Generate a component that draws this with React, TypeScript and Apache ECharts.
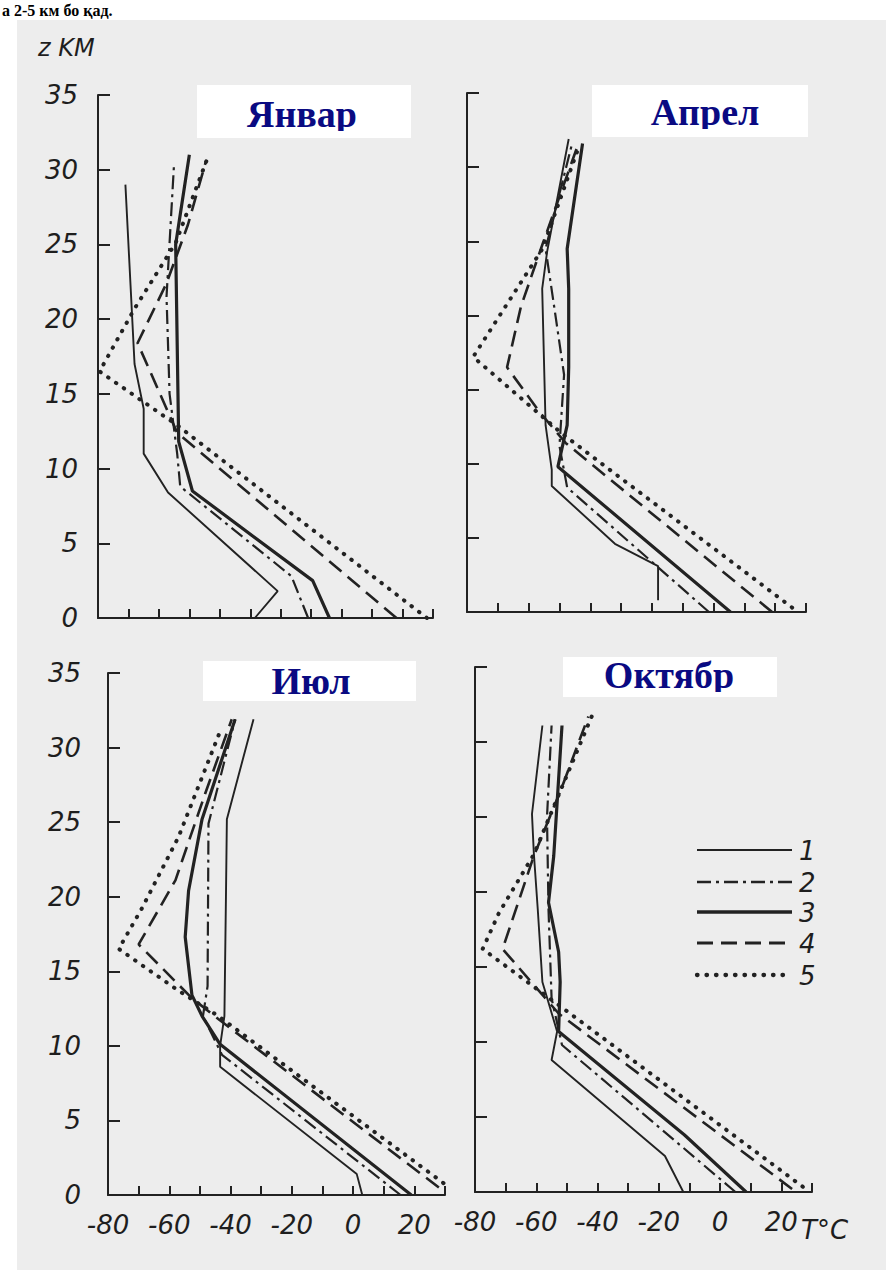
import React, { useEffect, useRef } from "react";
import * as echarts from "echarts";

type P = [number, number];

// ---- Data (temperature °C, height km) ----
const seriesNames = ["1", "2", "3", "4", "5"];
const monthTitles = ["Январ", "Апрел", "Июл", "Октябр"];
const xLabelValues = [-80, -60, -40, -20, 0, 20];

// January
const jan1: P[] = [[-28.5, 0], [-21, 1.8], [-57, 8.4], [-65, 11], [-65, 14], [-68, 17], [-71, 29]];
const jan2: P[] = [[-11, 0], [-16.5, 2.8], [-53, 8.8], [-54, 11], [-56.5, 15], [-57.5, 21.5], [-55, 30.5]];
const jan3: P[] = [[-4, 0], [-9.5, 2.5], [-49, 8.5], [-53.5, 11.8], [-54.5, 25], [-50, 31]];
const jan4: P[] = [[18, 0], [-54, 12.4], [-67, 18.4], [-57.5, 22.4], [-50.5, 26.3], [-44.5, 30.6]];
const jan5: P[] = [[28, 0], [-54, 12.9], [-79.5, 16.5], [-68, 20.7], [-54.5, 25.1], [-44, 30.8]];

// April
const apr1: P[] = [[-18, 0.8], [-18, 3.1], [-32, 4.6], [-52.5, 8.5], [-52.5, 9.6], [-54.5, 12.6], [-55.6, 21.8], [-54, 24.3], [-47, 31.9]];
const apr2: P[] = [[-1.5, 0], [-47.5, 8.4], [-50, 11.2], [-48.5, 16], [-52, 21], [-54.5, 24.5], [-46, 31.5]];
const apr3: P[] = [[5.5, 0], [-50.5, 9.8], [-47.5, 12.6], [-47, 16.5], [-47, 21.8], [-47.5, 24.5], [-42.5, 31.6]];
const apr4: P[] = [[19, 0], [-48, 11.4], [-56.5, 13.5], [-60, 14.5], [-67, 16.5], [-62.5, 20.6], [-55.5, 24.8], [-44, 31.5]];
const apr5: P[] = [[25.5, 0.3], [-49, 12], [-78, 17.2], [-55.5, 24.5], [-43.5, 31.5]];

// July
const jul1: P[] = [[3, 0], [1.2, 1.4], [-43.4, 8.6], [-43.4, 10], [-42, 12], [-41.5, 20], [-41.2, 25.2], [-32.5, 31.9]];
const jul2: P[] = [[15.5, 0], [-42.8, 9.4], [-49, 12], [-47.5, 14], [-47.2, 24.9], [-38.5, 31.9]];
const jul3: P[] = [[19, 0], [-43.4, 10.1], [-49.3, 12], [-52.6, 13.4], [-54.8, 17.3], [-53.7, 20.4], [-49.3, 25.2], [-38.5, 31.9]];
const jul4: P[] = [[28, 0.5], [-44, 11.8], [-52.6, 13.2], [-70, 16.8], [-58, 21.1], [-48.3, 26.9], [-39.6, 31.9]];
const jul5: P[] = [[29.5, 0.8], [-44, 12], [-57, 13.7], [-76.5, 16.5], [-69, 19.2], [-57, 24], [-42.8, 31.4]];

// October
const oct1: P[] = [[-12, 0], [-18, 2.4], [-55, 8.8], [-53.2, 10.7], [-58, 14], [-59.5, 18.8], [-60.8, 22.6], [-61.4, 25.2], [-58, 31.1]];
const oct2: P[] = [[5, 0], [-51.6, 9.8], [-55, 12.9], [-56, 18.8], [-56.5, 25], [-55, 31.1]];
const oct3: P[] = [[8.5, 0], [-11.6, 3.8], [-52.7, 10.7], [-52.2, 14], [-52.7, 16], [-56, 19.3], [-54.3, 22.4], [-51.6, 31.1]];
const oct4: P[] = [[23.5, 0.2], [-52.7, 11.9], [-71, 16.2], [-60.8, 22.4], [-51.6, 27], [-43, 31.7]];
const oct5: P[] = [[27, 0.35], [-51.6, 12.3], [-77.5, 16.2], [-72.2, 18.6], [-60.8, 22.5], [-51.6, 27], [-41.5, 31.9]];

const panels: P[][][] = [
  [jan1, jan2, jan3, jan4, jan5],
  [apr1, apr2, apr3, apr4, apr5],
  [jul1, jul2, jul3, jul4, jul5],
  [oct1, oct2, oct3, oct4, oct5],
];

// ---- Layout / style ----
const INK = "#222222";
const BG = "#ededed";
const NAVY = "#0a0a82";
const LABEL_FONT = "'DejaVu Sans', sans-serif";
const TITLE_FONT = "'Liberation Serif', 'DejaVu Serif', serif";

const gridBoxes = [
  { left: 98, top: 95, width: 335, height: 523 },
  { left: 467, top: 93, width: 339, height: 519 },
  { left: 108, top: 673, width: 337, height: 522 },
  { left: 475, top: 667, width: 337, height: 525 },
];

const lineStyles: any[] = [
  { width: 1.9, type: "solid" },
  { width: 2.2, type: [14, 5, 3, 5] },
  { width: 3.2, type: "solid" },
  { width: 2.6, type: [16, 8] },
  { width: 4, type: [0.5, 9], cap: "round" },
];

const titleBoxes = [
  { x: 197, y: 85, w: 214, h: 53, cx: 302, mid: 114, cut: 131 },
  { x: 592, y: 85, w: 216, h: 52, cx: 705, mid: 112, cut: 129 },
  { x: 203, y: 661, w: 213, h: 40, cx: 311, mid: 681, cut: 701 },
  { x: 563, y: 657, w: 214, h: 40, cx: 669, mid: 675, cut: 692 },
];

const legendYs = [850, 882, 912, 943, 975];

export default function App() {
  const ref = useRef<HTMLDivElement>(null);

  useEffect(() => {
    if (!ref.current) return;
    const chart = echarts.init(ref.current, undefined, { renderer: "svg" });

    const grid = gridBoxes.map((g) => ({ ...g, containLabel: false }));

    const xAxis = gridBoxes.map((_, i) => ({
      type: "value",
      gridIndex: i,
      min: -80,
      max: 30,
      interval: 10,
      axisLine: { show: true, onZero: false, lineStyle: { color: INK, width: 2 } },
      axisTick: { show: true, inside: true, length: 9, lineStyle: { color: INK, width: 2 } },
      splitLine: { show: false },
      axisLabel: {
        show: i >= 2,
        margin: 17,
        color: "#1e1e1e",
        fontSize: 26,
        fontStyle: "italic",
        fontFamily: LABEL_FONT,
        formatter: (v: number) => (xLabelValues.includes(v) ? String(v) : ""),
      },
    }));

    const yAxis = gridBoxes.map((_, i) => ({
      type: "value",
      gridIndex: i,
      min: 0,
      max: 35,
      interval: 5,
      axisLine: { show: true, onZero: false, lineStyle: { color: INK, width: 2 } },
      axisTick: { show: true, inside: true, length: 12, lineStyle: { color: INK, width: 2 } },
      splitLine: { show: false },
      axisLabel: {
        show: i === 0 || i === 2,
        margin: i === 0 ? 20 : 27,
        color: "#1e1e1e",
        fontSize: 26,
        fontStyle: "italic",
        fontFamily: LABEL_FONT,
      },
    }));

    const series: any[] = [];
    panels.forEach((curves, p) => {
      curves.forEach((data, c) => {
        series.push({
          type: "line",
          name: seriesNames[c],
          xAxisIndex: p,
          yAxisIndex: p,
          data,
          symbol: "none",
          showSymbol: false,
          silent: true,
          lineStyle: { color: INK, ...lineStyles[c] },
        });
      });
    });

    const graphic: any[] = [];
    // white scan margins
    graphic.push({ type: "rect", z: 50, shape: { x: 0, y: 0, width: 886, height: 20 }, style: { fill: "#ffffff" } });
    graphic.push({ type: "rect", z: 50, shape: { x: 0, y: 0, width: 17, height: 1270 }, style: { fill: "#ffffff" } });
    graphic.push({
      type: "text", z: 51, x: 2, y: 2,
      style: { text: "а 2-5 км бо қад.", fontSize: 16, fontWeight: "bold", fontFamily: TITLE_FONT, fill: "#000", align: "left", verticalAlign: "top" },
    });

    // axis caption
    graphic.push({
      type: "text", z: 60, x: 38, y: 48,
      style: { text: "z KM", fontSize: 24, fontStyle: "italic", fontFamily: LABEL_FONT, fill: "#1e1e1e", align: "left", verticalAlign: "middle" },
    });
    graphic.push({
      type: "text", z: 60, x: 801, y: 1230,
      style: { text: "T°C", fontSize: 26, fontStyle: "italic", fontFamily: LABEL_FONT, fill: "#1e1e1e", align: "left", verticalAlign: "middle" },
    });

    // month titles
    titleBoxes.forEach((b, i) => {
      graphic.push({ type: "rect", z: 60, shape: { x: b.x, y: b.y, width: b.w, height: b.h }, style: { fill: "#ffffff" } });
      graphic.push({
        type: "text", z: 61, x: b.cx, y: b.mid,
        style: { text: monthTitles[i], fontSize: 38, fontWeight: "bold", fontFamily: TITLE_FONT, fill: NAVY, align: "center", verticalAlign: "middle" },
      });
      if (b.cut < b.y + b.h) {
        graphic.push({ type: "rect", z: 62, shape: { x: b.x, y: b.cut, width: b.w, height: b.y + b.h - b.cut }, style: { fill: "#ffffff" } });
      }
      graphic.push({ type: "rect", z: 62, shape: { x: b.x, y: b.y + b.h, width: b.w, height: 9 }, style: { fill: BG } });
    });

    // legend
    legendYs.forEach((y, c) => {
      const ls = lineStyles[c];
      graphic.push({
        type: "line", z: 60,
        shape: { x1: 697, y1: y, x2: 792, y2: y },
        style: {
          stroke: INK,
          lineWidth: ls.width + 0.3,
          lineDash: Array.isArray(ls.type) ? ls.type : null,
          lineCap: ls.cap || "butt",
        },
      });
      graphic.push({
        type: "text", z: 60, x: 799, y: y + 1,
        style: { text: seriesNames[c], fontSize: 26, fontStyle: "italic", fontFamily: LABEL_FONT, fill: "#1e1e1e", align: "left", verticalAlign: "middle" },
      });
    });

    chart.setOption({
      animation: false,
      backgroundColor: BG,
      grid,
      xAxis,
      yAxis,
      series,
      graphic,
    });

    return () => chart.dispose();
  }, []);

  return (
    <div
      ref={ref}
      style={{ position: "fixed", left: 0, top: 0, width: 886, height: 1270 }}
    />
  );
}
